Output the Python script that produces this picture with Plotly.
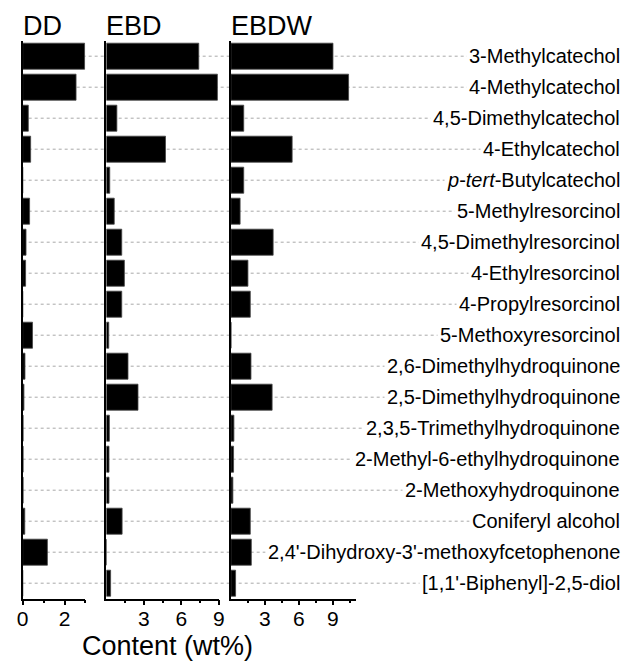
import plotly.graph_objects as go

W, H = 633, 661

compounds = [
    "3-Methylcatechol",
    "4-Methylcatechol",
    "4,5-Dimethylcatechol",
    "4-Ethylcatechol",
    "<i>p</i>-<i>tert</i>-Butylcatechol",
    "5-Methylresorcinol",
    "4,5-Dimethylresorcinol",
    "4-Ethylresorcinol",
    "4-Propylresorcinol",
    "5-Methoxyresorcinol",
    "2,6-Dimethylhydroquinone",
    "2,5-Dimethylhydroquinone",
    "2,3,5-Trimethylhydroquinone",
    "2-Methyl-6-ethylhydroquinone",
    "2-Methoxyhydroquinone",
    "Coniferyl alcohol",
    "2,4'-Dihydroxy-3'-methoxyfcetophenone",
    "[1,1'-Biphenyl]-2,5-diol",
]

dd = [2.96, 2.55, 0.27, 0.38, 0.0, 0.33, 0.16, 0.14, 0.0, 0.47, 0.11, 0.06,
      0.02, 0.02, 0.02, 0.10, 1.18, 0.0]
ebd = [7.39, 8.88, 0.84, 4.73, 0.27, 0.63, 1.23, 1.44, 1.23, 0.19, 1.73, 2.53,
       0.24, 0.21, 0.21, 1.26, 0.0, 0.34]
ebdw = [9.02, 10.4, 1.13, 5.41, 1.13, 0.81, 3.73, 1.50, 1.71, 0.0, 1.77, 3.64,
        0.26, 0.23, 0.17, 1.71, 1.80, 0.41]

panel_names = ["DD", "EBD", "EBDW"]
panel_values = [dd, ebd, ebdw]
panel_ranges = [[0, 3], [0, 9], [0, 11.05]]
major_ticks = [[0, 2], [3, 6, 9], [3, 6, 9]]
minor_ticks = [[1, 3], [1.5, 4.5, 7.5], [1.5, 4.5, 7.5, 10.5]]
x_domains_px = [(17, 81), (102.3, 217), (229.3, 356.7)]

FONT = "Liberation Sans, Arial, sans-serif"
y_dom = [1 - 598.7 / H, 1 - 40.7 / H]

fig = go.Figure()
layout = dict(
    width=W, height=H,
    margin=dict(l=0, r=0, t=0, b=0),
    paper_bgcolor="white",
    plot_bgcolor="rgba(0,0,0,0)",
    showlegend=False,
    font=dict(family=FONT, color="black"),
)

for i, (name, vals) in enumerate(zip(panel_names, panel_values)):
    sfx = "" if i == 0 else str(i + 1)
    fig.add_trace(go.Bar(
        x=vals, y=compounds, orientation="h",
        xaxis="x" + sfx, yaxis="y" + sfx,
        marker=dict(color="black", line=dict(color="#444", width=0.8)),
        width=0.84, name=name,
    ))
    x0, x1 = x_domains_px[i]
    layout["xaxis" + sfx] = dict(
        domain=[x0 / W, x1 / W], range=panel_ranges[i], anchor="y" + sfx,
        showline=True, linecolor="black", linewidth=1.5,
        ticks="outside", ticklen=5, tickwidth=1.5, tickcolor="black",
        tickvals=major_ticks[i], ticktext=[str(v) for v in major_ticks[i]],
        ticklabelstandoff=-5,
        minor=dict(tickvals=minor_ticks[i], ticks="outside", ticklen=3,
                   tickwidth=1.5, tickcolor="black"),
        showgrid=False, zeroline=False,
        tickfont=dict(size=21, family=FONT, color="black"),
    )
    layout["yaxis" + sfx] = dict(
        domain=y_dom, anchor="x" + sfx, type="category",
        categoryorder="array", categoryarray=compounds,
        range=[len(compounds) - 0.5, -0.5],
        showline=True, linecolor="black", linewidth=1.5,
        showticklabels=False, ticks="", showgrid=False, zeroline=False,
    )

fig.update_layout(**layout)

shapes = []
annotations = []
for k, comp in enumerate(compounds):
    shapes.append(dict(
        type="line", xref="paper", yref="y", x0=17 / W, x1=626 / W, y0=k, y1=k,
        line=dict(color="#a8a8a8", width=1, dash="dot"), layer="below",
    ))
    annotations.append(dict(
        xref="paper", yref="y", x=628.5 / W, y=k, text=comp,
        xanchor="right", yanchor="middle", showarrow=False,
        bgcolor="white", borderpad=2,
        font=dict(size=20, family=FONT, color="black"),
    ))

for i, name in enumerate(panel_names):
    annotations.append(dict(
        xref="paper", yref="paper", x=(x_domains_px[i][0] - 2) / W, y=1 - 26.5 / H,
        text=name, xanchor="left", yanchor="middle", showarrow=False,
        font=dict(size=27, family=FONT, color="black"),
    ))

annotations.append(dict(
    xref="paper", yref="paper", x=164.5 / W, y=1 - 646 / H,
    text="Content (wt%)", xanchor="center", yanchor="middle", showarrow=False,
    font=dict(size=27, family=FONT, color="black"),
))

fig.update_layout(shapes=shapes, annotations=annotations)

# remove the default 8px body margin so the 633x661 figure fills the window exactly
no_margin = "document.body.style.margin = '0'; document.body.style.overflow = 'hidden';"
fig.write_html("out.html", post_script=no_margin)
